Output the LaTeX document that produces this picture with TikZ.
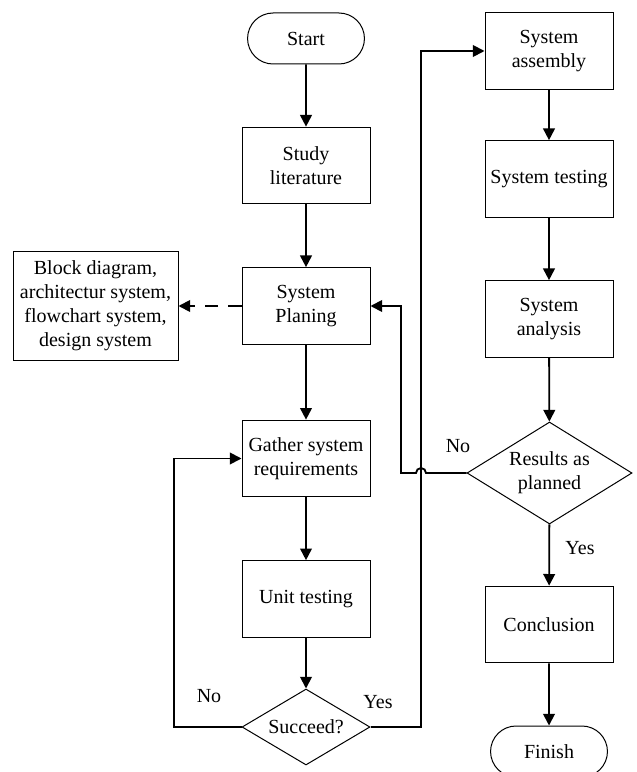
\documentclass[tikz,border=0pt]{standalone}
\usepackage{fontspec}
\setmainfont{Liberation Serif}
\usetikzlibrary{arrows.meta,shapes.geometric,shapes.misc}

\begin{document}
\begin{tikzpicture}
  [x=0.6pt,y=-0.6pt,
   every node/.style={font=\fontsize{12}{14.4}\selectfont,align=center},
   box/.style={draw,line width=0.6pt,minimum width=76.8pt,minimum height=46pt,inner sep=2pt},
   term/.style={draw,line width=0.6pt,rounded rectangle,minimum width=76.8pt,minimum height=30.6pt},
   decide/.style={draw,line width=0.6pt,diamond,inner sep=0pt},
   arr/.style={line width=1.1pt,-{Triangle[length=7pt,width=7pt]}}]
  \useasboundingbox (0,0) rectangle (636,772);

  % left column
  \node[term] (start) at (306,38.5) {Start};
  \node[box] (study) at (306,165.5) {Study\\literature};
  \node[box] (plan) at (306,306) {System\\Planing};
  \node[box,minimum width=99pt,minimum height=64.8pt] (block) at (95.5,306)
    {Block diagram,\\architectur system,\\flowchart system,\\design system};
  \node[box] (gather) at (306,458.5) {Gather system\\requirements};
  \node[box] (unit) at (306,599) {Unit testing};
  \node[decide,aspect=1.68,minimum width=76.8pt,minimum height=45.6pt] (succeed) at (306,727) {Succeed?};

  % right column
  \node[box] (assembly) at (549,51) {System\\assembly};
  \node[box] (testing) at (549,179) {System testing};
  \node[box] (analysis) at (549,319) {System\\analysis};
  \node[decide,aspect=1.62,minimum width=99pt,minimum height=61.2pt] (results) at (549.5,473) {Results as\\planned};
  \node[box] (conclusion) at (549,624.5) {Conclusion};
  \node[term] (finish) at (549,751.5) {Finish};

  \node (no1) at (209,696) {No};
  \node (yes1) at (378,702) {Yes};
  \node (no2) at (458,446) {No};
  \node (yes2) at (580,548) {Yes};

  \coordinate (noback) at (174,727);
  \coordinate (yesturn) at (421,727);
  \coordinate (hopR) at (426,473);
  \coordinate (noturn) at (401,473);

  \draw[arr] (start) -- (study);
  \draw[arr] (study) -- (plan);
  \draw[arr,dash pattern=on 8pt off 6pt] (plan) -- (block);
  \draw[arr] (plan) -- (gather);
  \draw[arr] (gather) -- (unit);
  \draw[arr] (unit) -- (succeed);
  \draw[arr] (succeed.west) -- (noback) |- (gather.west);
  \draw[arr] (succeed.east) -- (yesturn) |- (assembly.west);
  \draw[arr] (assembly) -- (testing);
  \draw[arr] (testing) -- (analysis);
  \draw[arr] (analysis) -- (results);
  \draw[arr] (results.west) -- (hopR) arc[start angle=0,end angle=180,radius=3pt]
    -- (noturn) |- (plan.east);
  \draw[arr] (results) -- (conclusion);
  \draw[arr] (conclusion) -- (finish);
\end{tikzpicture}
\end{document}
